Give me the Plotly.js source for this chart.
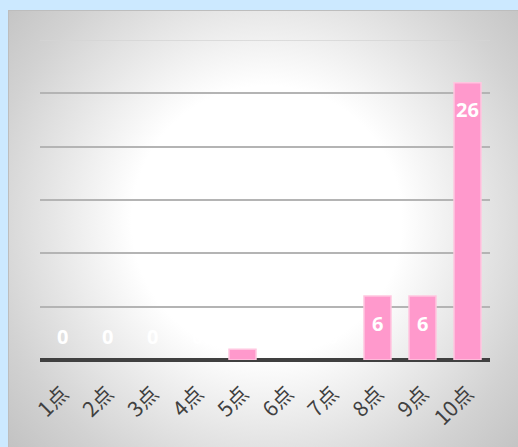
<!DOCTYPE html>
<html>
<head>
<meta charset="utf-8">
<script src="https://cdn.plot.ly/plotly-3.0.1.min.js"></script>
<style>
  html, body { margin: 0; padding: 0; width: 518px; height: 447px; overflow: hidden; background: #cce9ff; }
  #panel {
    position: absolute; left: 8px; top: 10px; right: 0; bottom: 0;
    background: radial-gradient(circle at 258px 210px, #ffffff 0px, #ffffff 135px, #e6e6e6 215px, #d2d2d2 280px, #c2c2c2 345px);
    border-top: 1px solid #bdbdbd; border-left: 1px solid #bdbdbd;
  }
  #chart { position: absolute; left: 0; top: 0; width: 518px; height: 447px; }
</style>
</head>
<body>
<div id="panel"></div>
<div id="chart"></div>
<script>
// Score distribution
const categories = ["1点", "2点", "3点", "4点", "5点", "6点", "7点", "8点", "9点", "10点"];
const counts = [0, 0, 0, 0, 1, 0, 0, 6, 6, 26];

const yMax = 30;
const plotTop = 40, plotBottom = 87;
const pxPerUnit = (447 - plotTop - plotBottom) / yMax;

const bars = {
  type: "bar",
  x: categories,
  y: counts,
  width: 0.6,
  marker: {
    color: "#ff99cc",
    line: { color: "#ffc6e0", width: counts.map(v => (v > 0 ? 1.5 : 0)) }
  },
  hoverinfo: "none"
};

// value labels: just inside the top of the bar, or above the axis when the bar is short
const labels = categories.map((c, i) => {
  const h = counts[i] * pxPerUnit;
  const inside = h > 52;
  return {
    x: c, y: inside ? counts[i] : 0, xref: "x", yref: "y",
    text: String(counts[i]), showarrow: false,
    yshift: inside ? -27 : 24,
    font: { family: "Open Sans, sans-serif", size: 20, color: "#ffffff", weight: "bold" }
  };
});

const layout = {
  width: 518, height: 447,
  margin: { l: 40, r: 28, t: plotTop, b: plotBottom },
  paper_bgcolor: "rgba(0,0,0,0)",
  plot_bgcolor: "rgba(0,0,0,0)",
  showlegend: false,
  bargap: 0.4,
  xaxis: {
    type: "category",
    tickangle: -45,
    ticks: "outside", ticklen: 12, tickcolor: "rgba(0,0,0,0)",
    tickfont: { family: "Noto Sans CJK JP, sans-serif", size: 21, color: "#404040" },
    showline: false, showgrid: false, zeroline: false,
    fixedrange: true
  },
  yaxis: {
    range: [0, yMax],
    dtick: 5,
    showticklabels: false,
    showgrid: true, gridcolor: "#b4b4b4", gridwidth: 1.8,
    zeroline: true, zerolinecolor: "#404040", zerolinewidth: 3.5,
    showline: false, ticks: "",
    fixedrange: true
  },
  // top gridline at the end of the value range
  shapes: [{
    type: "line", xref: "paper", yref: "y", x0: 0, x1: 1, y0: yMax, y1: yMax,
    line: { color: "#d4d4d4", width: 1.5 }, layer: "below"
  }],
  annotations: labels
};

Plotly.newPlot("chart", [bars], layout, { displayModeBar: false, staticPlot: true });
</script>
</body>
</html>
